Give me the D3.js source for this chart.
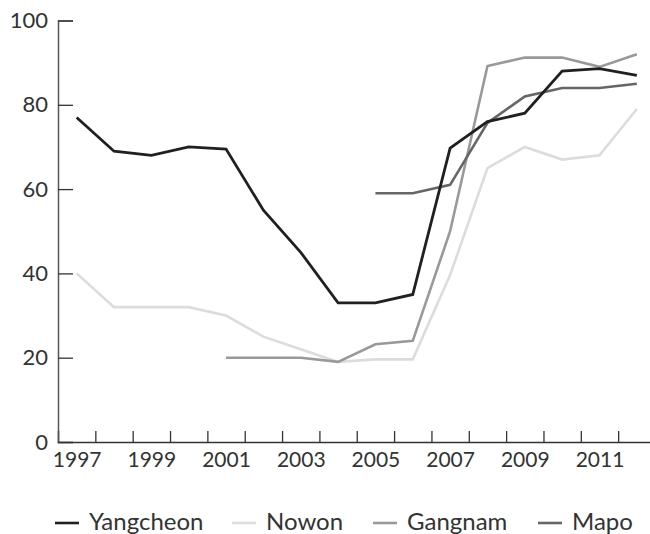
<!doctype html>
<html>
<head>
<meta charset="utf8">
<title>District lines</title>
<script src="https://cdn.jsdelivr.net/npm/d3@7"></script>
<style>
  body { margin: 0; background: #fff; overflow: hidden; }
  svg { display: block; }
  svg text { font-family: Lato, "Open Sans", sans-serif; font-weight: 400; fill: #333; }
</style>
</head>
<body>
<div id="chart"></div>
<script>
"use strict";
// years on the x axis
const years = [1997, 1998, 1999, 2000, 2001, 2002, 2003, 2004, 2005, 2006, 2007, 2008, 2009, 2010, 2011, 2012];
const seriesNames = ["Yangcheon", "Nowon", "Gangnam", "Mapo"];
const seriesColors = ["#231f20", "#dcdcdc", "#999999", "#666666"];
// null = no value that year
const yangcheon = [77, 69, 68, 70, 69.5, 55, 45, 33, 33, 35, 69.7, 76, 78, 88, 88.6, 87];
const nowon     = [40, 32, 32, 32, 30, 25, 22, 19, 19.6, 19.6, 39.6, 65, 70, 67, 68, 79];
const gangnam   = [null, null, null, null, 20, 20, 20, 19, 23.2, 24, 50, 89.2, 91.2, 91.2, 89, 92];
const mapo      = [null, null, null, null, null, null, null, null, 59, 59, 61, 75.7, 82, 84, 84, 85];
const yTicks = [0, 20, 40, 60, 80, 100];
const xLabelYears = [1997, 1999, 2001, 2003, 2005, 2007, 2009, 2011];

const width = 650, height = 534;
const allSeries = [yangcheon, nowon, gangnam, mapo];

const svg = d3.select("#chart").append("svg")
    .attr("width", width)
    .attr("height", height);

const x = d3.scaleLinear().domain([1996.5, 2012.5]).range([58, 655.5]);
const y = d3.scaleLinear().domain([0, 100]).range([442, 20.5]);

// x axis: ticks between the years, labels on odd years
const halfYears = years.map(d => d + 0.5);
const xAxis = svg.append("g")
    .attr("transform", "translate(0," + y(0) + ")")
    .call(d3.axisBottom(x).tickValues(halfYears).tickSize(-11).tickFormat(""));
xAxis.select(".domain").attr("stroke", "#333").attr("stroke-width", 1.5);
xAxis.selectAll(".tick line").attr("stroke", "#333").attr("stroke-width", 1.3);

const xLab = svg.append("g")
    .attr("transform", "translate(0," + y(0) + ")")
    .call(d3.axisBottom(x).tickValues(xLabelYears).tickSize(0).tickPadding(10).tickFormat(d3.format("d")));
xLab.select(".domain").remove();
xLab.selectAll("text").attr("font-size", 21).attr("fill", "#333");

// y axis with inward ticks
const yAxis = svg.append("g")
    .attr("transform", "translate(" + x(1996.5) + ",0)")
    .call(d3.axisLeft(y).tickValues(yTicks).tickSize(-15).tickPadding(10));
yAxis.select(".domain").attr("stroke", "#555").attr("stroke-width", 1.5);
yAxis.selectAll(".tick line").attr("stroke", "#333").attr("stroke-width", 1.3);
yAxis.selectAll("text").attr("font-size", 22).attr("fill", "#333");

const line = d3.line()
    .defined(d => d != null)
    .x((d, i) => x(years[i]))
    .y(d => y(d));

// lighter ones first so the dark line sits on top
const order = [1, 2, 3, 0];
order.forEach(k => {
    svg.append("path")
        .datum(allSeries[k])
        .attr("fill", "none")
        .attr("stroke", seriesColors[k])
        .attr("stroke-width", k === 0 ? 2.8 : 2.6)
        .attr("stroke-linejoin", "miter")
        .attr("d", line);
});

// legend along the bottom
const legendX = [55, 232, 373, 538];
const legend = svg.append("g").attr("transform", "translate(0,523)");
seriesNames.forEach((name, i) => {
    const g = legend.append("g").attr("transform", "translate(" + legendX[i] + ",0)");
    g.append("line")
        .attr("x1", 0).attr("x2", 24)
        .attr("stroke", seriesColors[i])
        .attr("stroke-width", 2.6);
    g.append("text")
        .attr("x", 34)
        .attr("y", 7)
        .attr("font-size", 24)
        .text(name);
});
</script>
</body>
</html>
